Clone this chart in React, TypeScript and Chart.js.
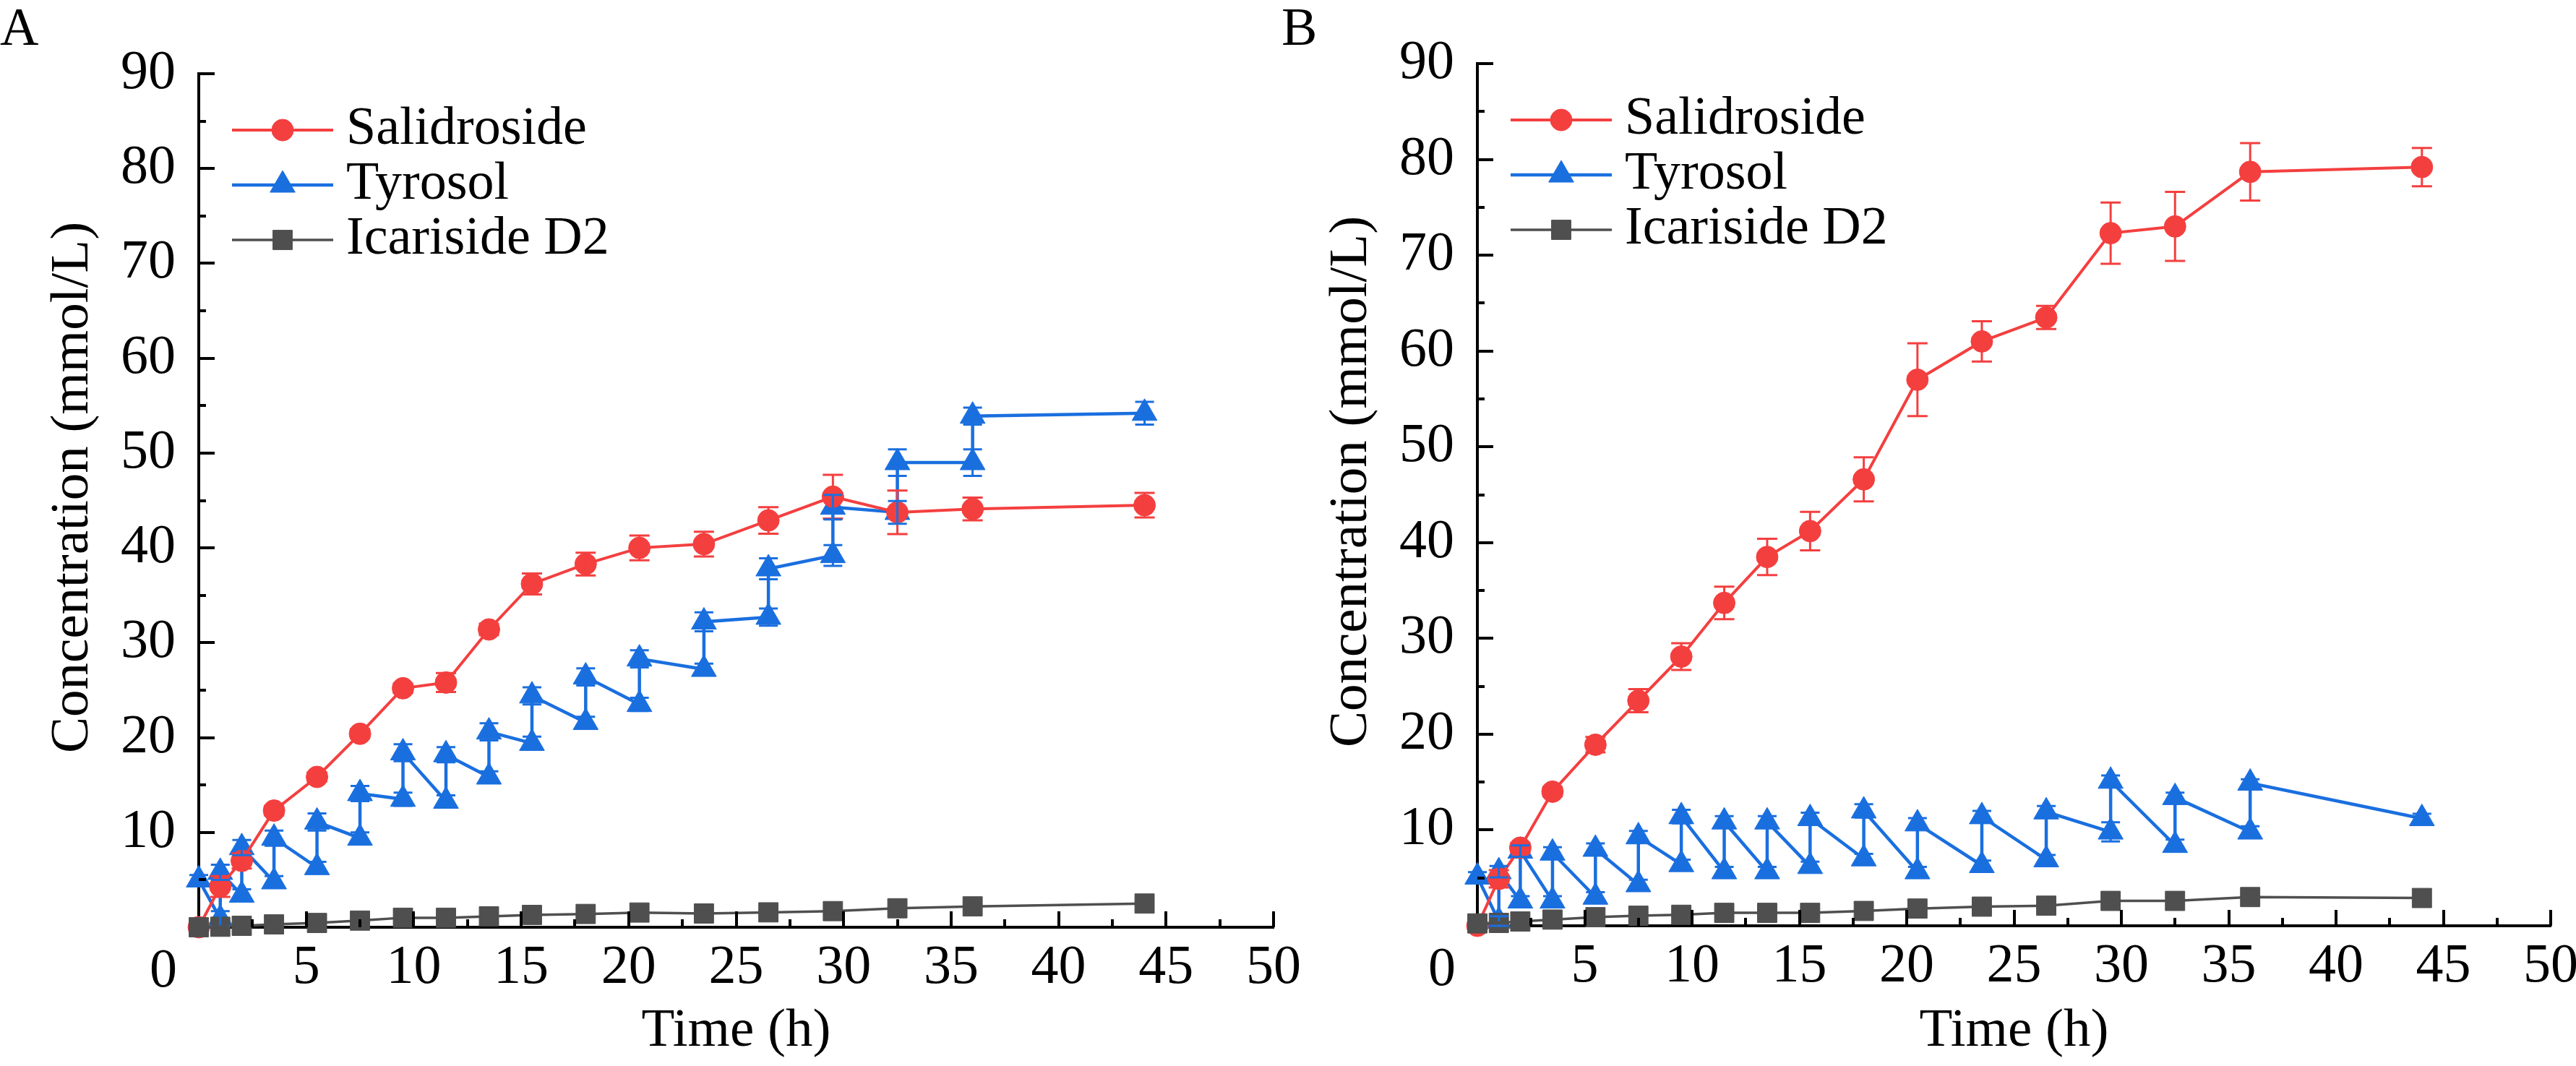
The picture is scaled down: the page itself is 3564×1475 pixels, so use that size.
import React, { useEffect, useRef } from 'react';
import { Chart, registerables } from 'chart.js';
import { drawPoint } from 'chart.js/helpers';

Chart.register(...registerables);

const FONT = '"Liberation Serif", "Times New Roman", Times, serif';
const RED = '#F43F3F';
const BLUE = '#1A6FDF';
const GRAY = '#4F4F4F';

const seriesLabels = ['Salidroside', 'Tyrosol', 'Icariside D2'];
const xTitle = 'Time (h)';
const yTitle = 'Concentration (mmol/L)';

// sampling times (h) for Salidroside and Icariside D2
const times = [0, 1, 2, 3.5, 5.5, 7.5, 9.5, 11.5, 13.5, 15.5, 18, 20.5, 23.5, 26.5, 29.5, 32.5, 36, 44];
// Tyrosol: before / after feeding at each time
const tyrosolTimes = [0, 1, 1, 2, 2, 3.5, 3.5, 5.5, 5.5, 7.5, 7.5, 9.5, 9.5, 11.5, 11.5, 13.5, 13.5, 15.5, 15.5, 18, 18, 20.5, 20.5, 23.5, 23.5, 26.5, 26.5, 29.5, 29.5, 32.5, 32.5, 36, 36, 44];

// Panel A
const salidrosideA = [0, 4.3, 7.0, 12.3, 15.85, 20.4, 25.2, 25.8, 31.4, 36.2, 38.3, 40.0, 40.4, 42.9, 45.4, 43.75, 44.1, 44.5];
const salidrosideErrA = [0, 1.1, 0.8, 0.5, 0.5, 0.5, 0.5, 1.0, 0.6, 1.1, 1.2, 1.3, 1.3, 1.4, 2.3, 2.3, 1.2, 1.3];
const tyrosolA = [5.0, 0.9, 5.8, 3.4, 8.4, 4.8, 9.4, 6.3, 11.1, 9.4, 14.1, 13.5, 18.4, 13.3, 18.2, 15.85, 20.6, 19.4, 24.4, 21.6, 26.4, 23.5, 28.3, 27.2, 32.2, 32.7, 37.8, 39.2, 44.3, 43.75, 49.0, 49.0, 53.9, 54.2];
const tyrosolErrA = [0.5, 0.8, 0.8, 0.6, 0.8, 0.6, 0.8, 0.6, 0.9, 0.6, 0.8, 0.7, 0.9, 0.6, 0.8, 0.6, 0.9, 0.7, 0.9, 0.6, 0.9, 0.7, 0.9, 0.6, 1.0, 0.9, 1.1, 1.1, 1.3, 1.2, 1.4, 1.4, 0.9, 1.2];
const icarisideA = [0, 0.05, 0.15, 0.3, 0.45, 0.7, 1.0, 1.0, 1.15, 1.3, 1.4, 1.55, 1.45, 1.57, 1.7, 2.0, 2.2, 2.5];
const icarisideErrA = [0, 0.05, 0.05, 0.1, 0.1, 0.1, 0.1, 0.1, 0.1, 0.1, 0.1, 0.1, 0.1, 0.1, 0.1, 0.1, 0.1, 0.1];

// Panel B
const salidrosideB = [0, 4.9, 8.15, 14.0, 18.9, 23.5, 28.1, 33.7, 38.5, 41.2, 46.6, 57.0, 61.0, 63.5, 72.3, 73.0, 78.7, 79.2];
const salidrosideErrB = [0, 0.9, 0.5, 0.5, 0.8, 1.2, 1.4, 1.7, 1.9, 2.0, 2.3, 3.8, 2.1, 1.2, 3.2, 3.6, 3.0, 2.0];
const tyrosolB = [5.1, 0.5, 5.65, 2.6, 7.8, 2.6, 7.6, 3.0, 8.0, 4.3, 9.3, 6.4, 11.4, 5.65, 10.85, 5.65, 10.85, 6.2, 11.2, 7.0, 12.0, 5.65, 10.65, 6.3, 11.4, 6.9, 11.9, 9.8, 15.1, 8.4, 13.4, 9.8, 14.9, 11.2];
const tyrosolErrB = [0.5, 0.5, 0.6, 0.5, 0.6, 0.5, 0.6, 0.5, 0.6, 0.5, 0.6, 0.5, 0.7, 0.5, 0.6, 0.5, 0.6, 0.5, 0.6, 0.5, 0.7, 0.5, 0.6, 0.5, 0.6, 0.5, 0.6, 1.0, 0.6, 0.6, 0.5, 0.6, 0.4, 0.5];
const icarisideB = [0.25, 0.3, 0.45, 0.65, 0.9, 1.05, 1.15, 1.35, 1.35, 1.35, 1.55, 1.8, 2.0, 2.1, 2.6, 2.6, 3.0, 2.9];
const icarisideErrB = [0.05, 0.05, 0.05, 0.1, 0.1, 0.1, 0.1, 0.1, 0.1, 0.1, 0.1, 0.1, 0.1, 0.1, 0.1, 0.1, 0.1, 0.1];

const xMin = 0, xMax = 50, xStep = 5, xMinorStep = 2.5;
const yMin = 0, yMax = 90, yStep = 10, yMinorStep = 5;

const errorBarPlugin = {
  id: 'errorBars',
  afterDatasetsDraw(chart: any) {
    const ctx = chart.ctx;
    const xs = chart.scales.x, ys = chart.scales.y;
    chart.data.datasets.forEach((ds: any) => {
      if (!ds.errors) return;
      ctx.save();
      ctx.strokeStyle = ds.borderColor;
      ctx.lineWidth = 3;
      ds.data.forEach((p: any, i: number) => {
        const e = ds.errors[i];
        if (!e) return;
        const x = xs.getPixelForValue(p.x);
        const y1 = ys.getPixelForValue(p.y + e);
        const y2 = ys.getPixelForValue(p.y - e);
        const c = ds.capHalf;
        ctx.beginPath();
        ctx.moveTo(x, y1); ctx.lineTo(x, y2);
        ctx.moveTo(x - c, y1); ctx.lineTo(x + c, y1);
        ctx.moveTo(x - c, y2); ctx.lineTo(x + c, y2);
        ctx.stroke();
      });
      ctx.restore();
    });
  },
};

const decorPlugin = {
  id: 'decor',
  afterDraw(chart: any, _args: any, opts: any) {
    const { ctx, chartArea } = chart;
    const xs = chart.scales.x, ys = chart.scales.y;
    ctx.save();
    // inward ticks
    ctx.strokeStyle = '#000';
    ctx.lineWidth = 4;
    ctx.lineCap = 'butt';
    ctx.beginPath();
    for (let v = xMin + xMinorStep; v <= xMax + 1e-6; v += xMinorStep) {
      const x = Math.round(xs.getPixelForValue(v));
      const major = Math.abs(v / xStep - Math.round(v / xStep)) < 1e-6;
      ctx.moveTo(x, chartArea.bottom);
      ctx.lineTo(x, chartArea.bottom - (major ? 22 : 11));
    }
    for (let v = yMin + yMinorStep; v <= yMax + 1e-6; v += yMinorStep) {
      const y = Math.round(ys.getPixelForValue(v));
      const major = Math.abs(v / yStep - Math.round(v / yStep)) < 1e-6;
      ctx.moveTo(chartArea.left, y);
      ctx.lineTo(chartArea.left + (major ? 22 : 10), y);
    }
    ctx.stroke();

    // shared origin label
    ctx.fillStyle = '#000';
    ctx.font = `76px ${FONT}`;
    ctx.textAlign = 'center';
    ctx.textBaseline = 'alphabetic';
    ctx.fillText('0', xs.getPixelForValue(0) - 49, chartArea.bottom + 82);

    // y axis title
    ctx.save();
    ctx.translate(chartArea.left - 174, (chartArea.top + chartArea.bottom) / 2 - 18);
    ctx.rotate(-Math.PI / 2);
    ctx.font = `75px ${FONT}`;
    ctx.textAlign = 'center';
    ctx.textBaseline = 'middle';
    ctx.fillText(yTitle, 0, 0);
    ctx.restore();

    // panel letter
    ctx.textAlign = 'left';
    ctx.textBaseline = 'alphabetic';
    ctx.font = `74px ${FONT}`;
    ctx.fillText(opts.letter, opts.letterX, 62);

    // legend
    chart.data.datasets.forEach((ds: any, i: number) => {
      const y = chartArea.top + 78 + 76 * i;
      const lx = chartArea.left + 46;
      ctx.strokeStyle = ds.borderColor;
      ctx.lineWidth = ds.borderWidth;
      ctx.beginPath();
      ctx.moveTo(lx, y);
      ctx.lineTo(lx + 140, y);
      ctx.stroke();
      ctx.fillStyle = ds.pointBackgroundColor;
      ctx.strokeStyle = ds.pointBorderColor;
      ctx.lineWidth = 1;
      drawPoint(ctx, { pointStyle: ds.pointStyle, radius: ds.pointRadius, borderWidth: 1, rotation: 0 } as any, lx + 70, y);
      ctx.fillStyle = '#000';
      ctx.font = `74px ${FONT}`;
      ctx.textAlign = 'left';
      ctx.textBaseline = 'middle';
      ctx.fillText(ds.label, chartArea.left + 204, y);
    });
    ctx.restore();
  },
};

type PanelSpec = {
  letter: string;
  letterX: number;
  left: number;
  width: number;
  yWidth: number;
  xHeight: number;
  padTop: number;
  padRight: number;
  sal: number[];
  salErr: number[];
  tyr: number[];
  tyrErr: number[];
  ica: number[];
  icaErr: number[];
};

const HEIGHT = 1475;

function Panel({ spec }: { spec: PanelSpec }) {
  const ref = useRef<HTMLCanvasElement | null>(null);
  useEffect(() => {
    if (!ref.current) return;
    const pts = (xs: number[], ys: number[]) => xs.map((x, i) => ({ x, y: ys[i] }));
    const datasets: any[] = [
      {
        label: seriesLabels[0], data: pts(times, spec.sal), errors: spec.salErr, capHalf: 14,
        borderColor: RED, backgroundColor: RED, pointBackgroundColor: RED, pointBorderColor: RED,
        borderWidth: 4, pointStyle: 'circle', pointRadius: 15, pointBorderWidth: 1, order: 1, clip: false,
      },
      {
        label: seriesLabels[1], data: pts(tyrosolTimes, spec.tyr), errors: spec.tyrErr, capHalf: 13,
        borderColor: BLUE, backgroundColor: BLUE, pointBackgroundColor: BLUE, pointBorderColor: BLUE,
        borderWidth: 4.5, pointStyle: 'triangle', pointRadius: 20, pointBorderWidth: 1, order: 2, clip: false,
      },
      {
        label: seriesLabels[2], data: pts(times, spec.ica), errors: spec.icaErr, capHalf: 12,
        borderColor: GRAY, backgroundColor: GRAY, pointBackgroundColor: GRAY, pointBorderColor: GRAY,
        borderWidth: 3.5, pointStyle: 'rect', pointRadius: 19, pointBorderWidth: 1, order: 0, clip: false,
      },
    ];
    const chart = new Chart(ref.current, {
      type: 'line',
      data: { datasets },
      plugins: [errorBarPlugin, decorPlugin],
      options: {
        animation: false,
        responsive: false,
        devicePixelRatio: 1,
        events: [],
        layout: { padding: { left: 0, right: spec.padRight, top: spec.padTop, bottom: 0 } },
        elements: { line: { tension: 0 } },
        plugins: {
          legend: { display: false },
          tooltip: { enabled: false },
          decor: { letter: spec.letter, letterX: spec.letterX },
        } as any,
        scales: {
          x: {
            type: 'linear',
            min: xMin,
            max: xMax,
            z: 1,
            grid: { display: false, drawTicks: false },
            border: { display: true, color: '#000', width: 4 },
            ticks: {
              stepSize: xStep,
              padding: 11,
              color: '#000',
              font: { family: FONT, size: 76 },
              maxRotation: 0,
              callback: (v: any) => (Number(v) === 0 ? '' : String(v)),
            },
            title: {
              display: true,
              text: xTitle,
              color: '#000',
              font: { family: FONT, size: 75 },
              padding: { top: 0, bottom: 3 },
            },
            afterFit: (s: any) => {
              s.height = spec.xHeight;
              s.paddingLeft = 0;
              s.paddingRight = 0;
            },
          },
          y: {
            type: 'linear',
            min: yMin,
            max: yMax,
            z: 1,
            grid: { display: false, drawTicks: false },
            border: { display: true, color: '#000', width: 4 },
            ticks: {
              stepSize: yStep,
              padding: 32,
              color: '#000',
              font: { family: FONT, size: 76 },
              callback: (v: any) => (Number(v) === 0 ? '' : String(v)),
            },
            title: { display: false },
            afterFit: (s: any) => {
              s.width = spec.yWidth;
              s.paddingTop = 0;
              s.paddingBottom = 0;
            },
          },
        } as any,
      } as any,
    });
    return () => chart.destroy();
  }, [spec]);
  return (
    <canvas
      ref={ref}
      width={spec.width}
      height={HEIGHT}
      style={{ position: 'absolute', left: spec.left, top: 0, width: spec.width, height: HEIGHT }}
    />
  );
}

const specA: PanelSpec = {
  letter: 'A', letterX: 0, left: 0, width: 1830, yWidth: 275, xHeight: 192, padTop: 102, padRight: 68,
  sal: salidrosideA, salErr: salidrosideErrA, tyr: tyrosolA, tyrErr: tyrosolErrA, ica: icarisideA, icaErr: icarisideErrA,
};
const specB: PanelSpec = {
  letter: 'B', letterX: 3, left: 1770, width: 1794, yWidth: 274, xHeight: 194, padTop: 88, padRight: 35,
  sal: salidrosideB, salErr: salidrosideErrB, tyr: tyrosolB, tyrErr: tyrosolErrB, ica: icarisideB, icaErr: icarisideErrB,
};

export default function App() {
  useEffect(() => {
    document.body.style.margin = '0';
  }, []);
  return (
    <div style={{ position: 'absolute', left: 0, top: 0, width: 3564, height: HEIGHT, background: '#fff', overflow: 'hidden' }}>
      <Panel spec={specA} />
      <Panel spec={specB} />
    </div>
  );
}
